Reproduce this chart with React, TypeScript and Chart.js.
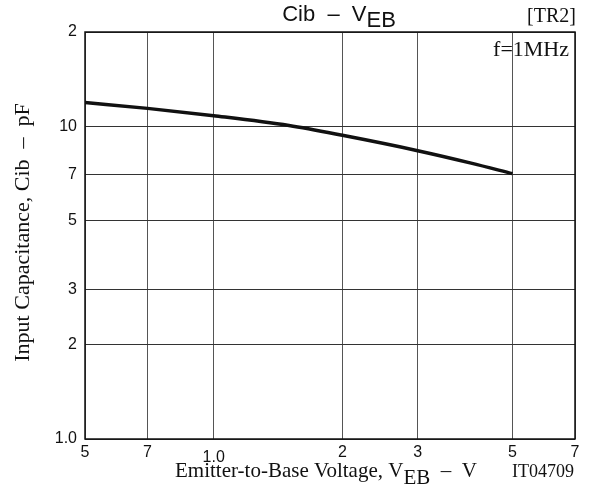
import React, { useEffect, useRef } from "react";
import { Chart, registerables } from "chart.js";

Chart.register(...registerables);

const voltage = [0.5, 0.7, 1.0, 1.5, 2, 3, 4, 5];
const capacitance = [11.9, 11.4, 10.8, 10.05, 9.35, 8.35, 7.62, 7.05];

const xTickValues = [0.5, 0.7, 1, 2, 3, 5, 7];
const xTickLabels = ["5", "7", "1.0", "2", "3", "5", "7"];
const yTickValues = [1, 2, 3, 5, 7, 10, 20];
const yTickLabels = ["1.0", "2", "3", "5", "7", "10", "2"];

const SANS = "'Liberation Sans', Arial, sans-serif";
const SERIF = "'Liberation Serif', 'Times New Roman', serif";

const decorPlugin = {
  id: "decor",
  afterDraw(chart: any) {
    const ctx = chart.ctx as CanvasRenderingContext2D;
    const a = chart.chartArea;
    const xs = chart.scales.x;
    ctx.save();
    // frame
    ctx.strokeStyle = "#111";
    ctx.lineWidth = 1.5;
    ctx.strokeRect(a.left, a.top, a.right - a.left, a.bottom - a.top);

    // x tick labels
    ctx.fillStyle = "#111";
    ctx.font = `16px ${SANS}`;
    ctx.textAlign = "center";
    ctx.textBaseline = "alphabetic";
    xTickValues.forEach((v, i) => {
      const px = xs.getPixelForValue(v);
      const yy = xTickLabels[i] === "1.0" ? a.bottom + 23 : a.bottom + 18;
      ctx.fillText(xTickLabels[i], px, yy);
    });

    const drawSub = (
      parts: { t: string; sub?: boolean }[],
      font: string,
      x: number,
      y: number,
      subDy: number,
      align: "left" | "center"
    ) => {
      ctx.font = font;
      ctx.textAlign = "left";
      const total = parts.reduce((s, p) => s + ctx.measureText(p.t).width, 0);
      let cx = align === "center" ? x - total / 2 : x;
      parts.forEach((p) => {
        ctx.fillText(p.t, cx, p.sub ? y + subDy : y);
        cx += ctx.measureText(p.t).width;
      });
    };
    drawSub(
      [{ t: "Cib  \u2013  V" }, { t: "EB", sub: true }],
      `22px ${SANS}`,
      339,
      21,
      6,
      "center"
    );

    ctx.font = `20px ${SERIF}`;
    ctx.textAlign = "right";
    ctx.fillText("[TR2]", a.right + 1, 22);
    ctx.font = `22px ${SERIF}`;
    ctx.fillText("f=1MHz", a.right - 6, 56);

    // x axis title
    drawSub(
      [{ t: "Emitter-to-Base Voltage, V" }, { t: "EB", sub: true }, { t: "  \u2013  V" }],
      `21px ${SERIF}`,
      175,
      477,
      7,
      "left"
    );
    ctx.font = `18px ${SERIF}`;
    ctx.textAlign = "right";
    ctx.fillText("IT04709", a.right - 1, 477);

    // y axis title
    ctx.translate(29, (a.top + a.bottom) / 2 - 3);
    ctx.rotate(-Math.PI / 2);
    ctx.font = `22px ${SERIF}`;
    ctx.textAlign = "center";
    ctx.fillText("Input Capacitance, Cib  \u2013  pF", 0, 0);
    ctx.restore();
  },
};

export default function App() {
  const ref = useRef<HTMLCanvasElement | null>(null);
  useEffect(() => {
    document.body.style.margin = "0";
    const canvas = ref.current!;
    const chart = new Chart(canvas, {
      type: "scatter",
      data: {
        datasets: [
          {
            data: voltage.map((v, i) => ({ x: v, y: capacitance[i] })),
            showLine: true,
            borderColor: "#111",
            borderWidth: 3.5,
            pointRadius: 0,
            cubicInterpolationMode: "monotone",
            tension: 0.4,
          } as any,
        ],
      },
      options: {
        animation: false,
        responsive: false,
        maintainAspectRatio: false,
        layout: { padding: { top: 32, right: 14, left: 0, bottom: 0 } },
        plugins: {
          legend: { display: false },
          title: { display: false },
          tooltip: { enabled: false },
        },
        scales: {
          x: {
            type: "logarithmic",
            min: 0.5,
            max: 7,
            afterBuildTicks: (s: any) => {
              s.ticks = xTickValues.map((v) => ({ value: v }));
            },
            afterFit: (s: any) => {
              s.height = 51;
            },
            ticks: { display: false },
            grid: { color: "#555", lineWidth: 1, drawTicks: false },
            border: { display: false },
          },
          y: {
            type: "logarithmic",
            min: 1,
            max: 20,
            afterBuildTicks: (s: any) => {
              s.ticks = yTickValues.map((v) => ({ value: v }));
            },
            afterFit: (s: any) => {
              s.width = 85;
            },
            ticks: {
              padding: 8,
              color: "#111",
              font: { family: SANS, size: 16 },
              callback: (v: any) => yTickLabels[yTickValues.indexOf(Number(v))],
            },
            grid: { color: "#333", lineWidth: 1, drawTicks: false },
            border: { display: false },
          },
        },
      } as any,
      plugins: [decorPlugin],
    });
    return () => chart.destroy();
  }, []);
  return (
    <div style={{ width: 589, height: 490 }}>
      <canvas ref={ref} width={589} height={490} style={{ display: "block" }} />
    </div>
  );
}
